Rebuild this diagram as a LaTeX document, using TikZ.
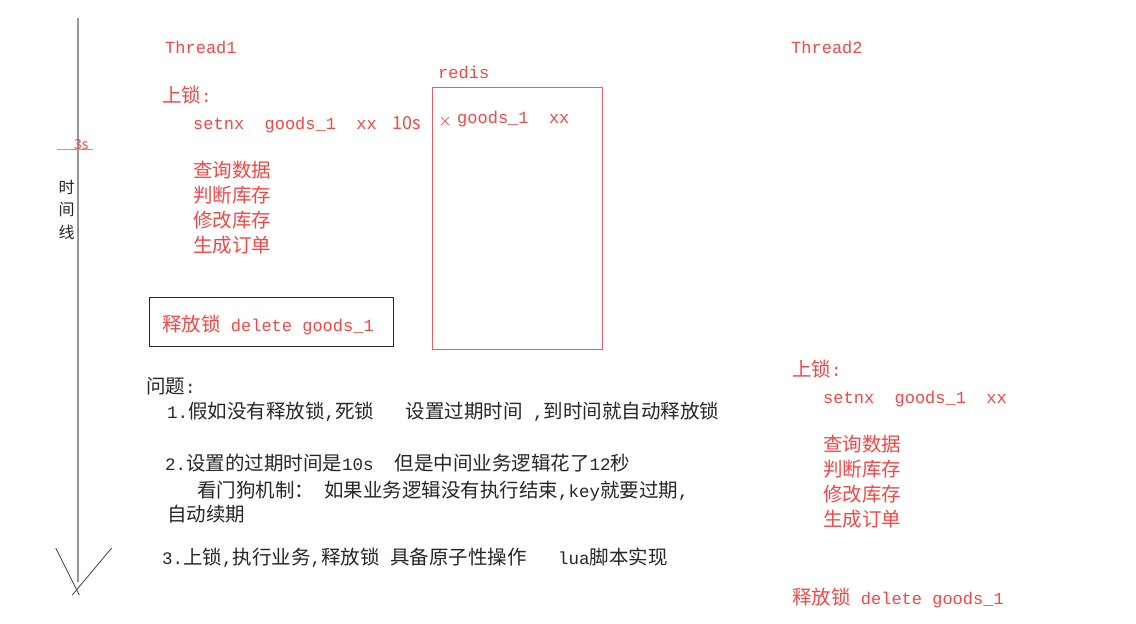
\documentclass[tikz,border=0pt]{standalone}
\usepackage{fontspec}
\setmainfont{Noto Sans CJK SC}
\setmonofont{Liberation Mono}
\usepackage{tikz}
\usetikzlibrary{positioning}
\definecolor{lockred}{RGB}{245,70,70}
\definecolor{boxred}{RGB}{240,90,100}
\definecolor{axisgray}{RGB}{150,150,150}
\newcommand\halfw[1]{{\fontsize{17.5}{17.5}\selectfont\ttfamily #1}}
\tikzset{redtxt/.style={anchor=base west,inner sep=0pt,text=lockred,font=\fontsize{19.5}{19.5}\selectfont}}
\tikzset{codetxt/.style={anchor=base west,inner sep=0pt,text=lockred,font=\fontsize{17}{17}\selectfont\ttfamily}}
\tikzset{notetxt/.style={anchor=base west,inner sep=0pt,text=black!85,font=\fontsize{19.5}{19.5}\selectfont}}

\begin{document}
\begin{tikzpicture}[x=1pt,y=-1pt]

\useasboundingbox[fill=white] (0,0) rectangle (1136,624);

% time line
\coordinate (time top) at (77.7,18);
\coordinate (time end) at (77.7,582);
\coordinate (head left) at (55.7,548);
\coordinate (head right) at (111.7,548);
\coordinate (tip left) at (79.3,595);
\coordinate (tip right) at (72.3,595);
\draw[axisgray, line width=2pt] (time top) -- (time end);
\draw[black!75, line width=0.8pt] (head left) -- (tip left);
\draw[black!75, line width=0.8pt] (head right) -- (tip right);

\node[anchor=base west,inner sep=0pt,text=lockred,font=\fontsize{14}{14}\selectfont] (mark 3s) at (74,149) {3s};
\coordinate (under left) at (57,149.3);
\coordinate (under right) at (93,149.3);
\draw[lockred!70, line width=0.8pt] (under left) -- (under right);

\node[font=\fontsize{16}{16}\selectfont,text=black!85] (time a) at (66.7,187) {时};
\node[font=\fontsize{16}{16}\selectfont,text=black!85] (time b) at (66.7,209.5) {间};
\node[font=\fontsize{16}{16}\selectfont,text=black!85] (time c) at (66.7,232) {线};

% thread 1
\node[codetxt] (thread one) at (165,53) {Thread1};
\node[redtxt] (lock one) at (162,102.5) {上锁\halfw{:}};
\node[codetxt] (setnx one) at (193,129.5) {setnx~~goods\_1~~xx};
\node[redtxt,font=\fontsize{18}{18}\selectfont] (ttl one) at (392,129.5) {10s};
\foreach \txt [count=\k] in {查询数据,判断库存,修改库存,生成订单}
{
\node[redtxt] (stepA\k) at (193,152.5+25*\k) {\txt};
}

\draw[black!85, line width=0.8pt] (149,297) rectangle (393,346);
\node[redtxt] (free one) at (162,331) {释放锁\fontsize{17}{17}\selectfont\ttfamily~delete goods\_1};

% redis
\node[codetxt] (redis) at (438,78) {redis};
\draw[boxred, line width=0.8pt] (432,87) rectangle (602.5,349);
\node[text=lockred,inner sep=0pt,font=\fontsize{13}{13}\selectfont] (cross) at (445,121.5) {×};
\node[codetxt] (key) at (457,123) {goods\_1~~xx};

% problems
\node[notetxt] (issue) at (146,393) {问题\halfw{:}};
\node[notetxt] (issue a) at (167,418) {\halfw{1.}假如没有释放锁\halfw{,}死锁\halfw{~~~}设置过期时间\halfw{~,}到时间就自动释放锁};
\node[notetxt] (issue b) at (165,470) {\halfw{2.}设置的过期时间是\halfw{10s~~}但是中间业务逻辑花了\halfw{12}秒};
\node[notetxt] (issue c) at (197,497) {看门狗机制：\hspace{10pt}如果业务逻辑没有执行结束\halfw{,key}就要过期\halfw{,}};
\node[notetxt] (issue d) at (167,521) {自动续期};
\node[notetxt] (issue e) at (162,564) {\halfw{3.}上锁\halfw{,}执行业务\halfw{,}释放锁\halfw{~}具备原子性操作\halfw{~~~lua}脚本实现};

% thread 2
\node[codetxt] (thread two) at (791,53) {Thread2};
\node[redtxt] (lock two) at (792,376) {上锁\halfw{:}};
\node[codetxt] (setnx two) at (823,403) {setnx~~goods\_1~~xx};
\foreach \txt [count=\k] in {查询数据,判断库存,修改库存,生成订单}
{
\node[redtxt] (stepB\k) at (823,426.5+25*\k) {\txt};
}
\node[redtxt] (free two) at (792,604) {释放锁\fontsize{17}{17}\selectfont\ttfamily~delete goods\_1};

\end{tikzpicture}
\end{document}
